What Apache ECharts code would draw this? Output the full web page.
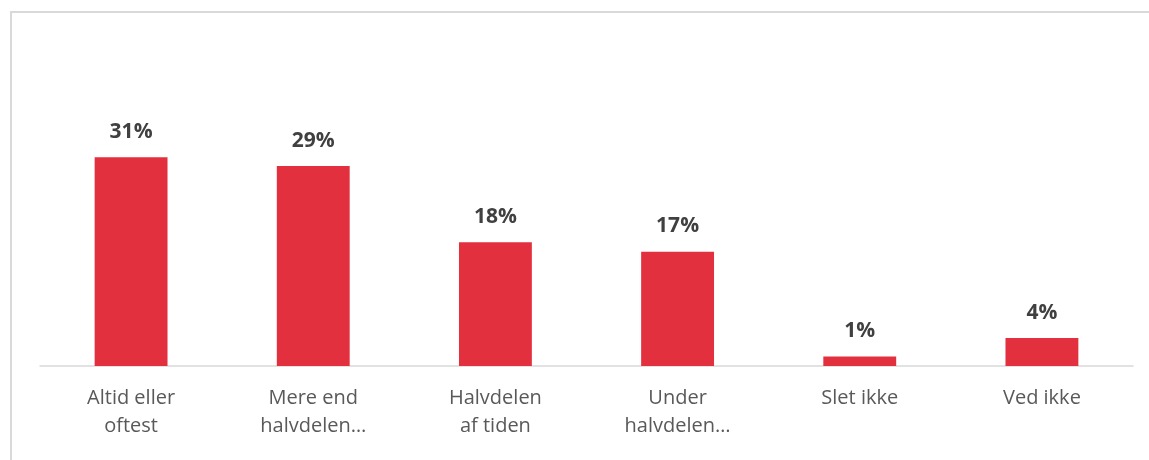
<!DOCTYPE html>
<html>
<head>
<meta charset="utf-8">
<script src="https://cdn.jsdelivr.net/npm/echarts@6/dist/echarts.min.js"></script>
<style>
  html, body { margin: 0; padding: 0; background: #fff; }
  #chart { width: 1149px; height: 460px; }
</style>
</head>
<body>
<div id="chart"></div>
<script>
  // categories and values (bar heights, labels are rounded)
  var categories = ['Altid eller\noftest', 'Mere end\nhalvdelen…', 'Halvdelen\naf tiden', 'Under\nhalvdelen…', 'Slet ikke', 'Ved ikke'];
  var shares = [30.7, 29.4, 18.2, 16.8, 1.4, 4.1];

  var myChart = echarts.init(document.getElementById('chart'));
  var option = {
    animation: false,
    grid: { left: 40, right: 16, top: 128, bottom: 94 },
    graphic: [
      {
        type: 'polyline',
        shape: { points: [[11, 460], [11, 12], [1149, 12]] },
        style: { stroke: '#d9d9d9', lineWidth: 2, fill: null }
      }
    ],
    xAxis: {
      type: 'category',
      data: categories,
      axisTick: { show: false },
      axisLine: { lineStyle: { color: '#d9d9d9', width: 1.5 } },
      axisLabel: {
        color: '#595959',
        fontSize: 20,
        lineHeight: 28,
        margin: 18,
        fontFamily: 'Open Sans, sans-serif',
        interval: 0
      }
    },
    yAxis: {
      type: 'value',
      min: 0,
      max: 35,
      show: false,
      splitLine: { show: false }
    },
    series: [
      {
        type: 'bar',
        data: shares,
        barWidth: '40%',
        itemStyle: { color: '#e3303e' },
        label: {
          show: true,
          position: 'top',
          distance: 15,
          formatter: function (p) { return Math.round(p.value) + '%'; },
          color: '#404040',
          fontSize: 21,
          fontWeight: 'bold',
          fontFamily: 'Open Sans, sans-serif'
        }
      }
    ]
  };
  myChart.setOption(option);
</script>
</body>
</html>
